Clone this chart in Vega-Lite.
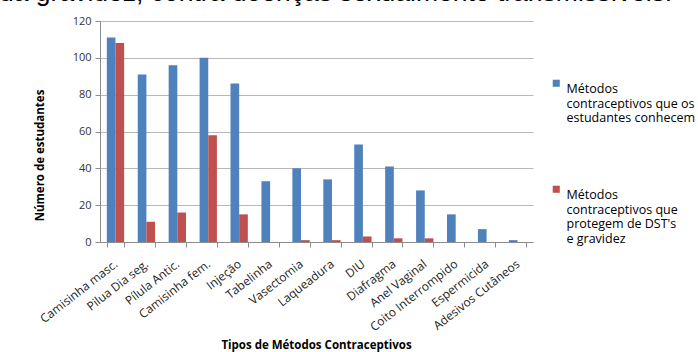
{
  "$schema": "https://vega.github.io/schema/vega-lite/v6.json",
  "autosize": {"type": "none"},
  "width": 433,
  "height": 221,
  "padding": {"left": 100, "top": 21, "right": 165, "bottom": 110},
  "background": "white",
  "title": {
    "text": "da gravidez, contra doenças sexualmente transmissíveis.",
    "font": "Liberation Sans",
    "fontSize": 26.5,
    "fontWeight": 400,
    "color": "#000000",
    "anchor": "start",
    "frame": "group",
    "baseline": "alphabetic",
    "offset": 0,
    "dy": 12,
    "dx": -101
  },
  "config": {
    "font": "Open Sans",
    "view": {"stroke": null}
  },
  "data": {
    "values": [
      {"metodo": "Camisinha masc.", "serie": "Métodos contraceptivos que os estudantes conhecem", "n": 111},
      {"metodo": "Pilua Dia seg.", "serie": "Métodos contraceptivos que os estudantes conhecem", "n": 91},
      {"metodo": "Pílula Antic.", "serie": "Métodos contraceptivos que os estudantes conhecem", "n": 96},
      {"metodo": "Camisinha fem.", "serie": "Métodos contraceptivos que os estudantes conhecem", "n": 100},
      {"metodo": "Injeção", "serie": "Métodos contraceptivos que os estudantes conhecem", "n": 86},
      {"metodo": "Tabelinha", "serie": "Métodos contraceptivos que os estudantes conhecem", "n": 33},
      {"metodo": "Vasectomia", "serie": "Métodos contraceptivos que os estudantes conhecem", "n": 40},
      {"metodo": "Laqueadura", "serie": "Métodos contraceptivos que os estudantes conhecem", "n": 34},
      {"metodo": "DIU", "serie": "Métodos contraceptivos que os estudantes conhecem", "n": 53},
      {"metodo": "Diafragma", "serie": "Métodos contraceptivos que os estudantes conhecem", "n": 41},
      {"metodo": "Anel Vaginal", "serie": "Métodos contraceptivos que os estudantes conhecem", "n": 28},
      {"metodo": "Coito Interrompido", "serie": "Métodos contraceptivos que os estudantes conhecem", "n": 15},
      {"metodo": "Espermicida", "serie": "Métodos contraceptivos que os estudantes conhecem", "n": 7},
      {"metodo": "Adesivos Cutâneos", "serie": "Métodos contraceptivos que os estudantes conhecem", "n": 1},
      {"metodo": "Camisinha masc.", "serie": "Métodos contraceptivos que protegem de DST's e gravidez", "n": 108},
      {"metodo": "Pilua Dia seg.", "serie": "Métodos contraceptivos que protegem de DST's e gravidez", "n": 11},
      {"metodo": "Pílula Antic.", "serie": "Métodos contraceptivos que protegem de DST's e gravidez", "n": 16},
      {"metodo": "Camisinha fem.", "serie": "Métodos contraceptivos que protegem de DST's e gravidez", "n": 58},
      {"metodo": "Injeção", "serie": "Métodos contraceptivos que protegem de DST's e gravidez", "n": 15},
      {"metodo": "Tabelinha", "serie": "Métodos contraceptivos que protegem de DST's e gravidez", "n": 0},
      {"metodo": "Vasectomia", "serie": "Métodos contraceptivos que protegem de DST's e gravidez", "n": 1},
      {"metodo": "Laqueadura", "serie": "Métodos contraceptivos que protegem de DST's e gravidez", "n": 1},
      {"metodo": "DIU", "serie": "Métodos contraceptivos que protegem de DST's e gravidez", "n": 3},
      {"metodo": "Diafragma", "serie": "Métodos contraceptivos que protegem de DST's e gravidez", "n": 2},
      {"metodo": "Anel Vaginal", "serie": "Métodos contraceptivos que protegem de DST's e gravidez", "n": 2},
      {"metodo": "Coito Interrompido", "serie": "Métodos contraceptivos que protegem de DST's e gravidez", "n": 0},
      {"metodo": "Espermicida", "serie": "Métodos contraceptivos que protegem de DST's e gravidez", "n": 0},
      {"metodo": "Adesivos Cutâneos", "serie": "Métodos contraceptivos que protegem de DST's e gravidez", "n": 0}
    ]
  },
  "mark": {"type": "bar"},
  "encoding": {
    "x": {
      "field": "metodo",
      "type": "nominal",
      "sort": null,
      "scale": {"paddingInner": 0.44, "paddingOuter": 0.22},
      "axis": {
        "title": "Tipos  de Métodos Contraceptivos",
        "titleFont": "Open Sans",
        "titleFontSize": 11.5,
        "titleFontWeight": "bold",
        "titleColor": "#000000",
        "titleX": 216,
        "titleY": 103,
        "titleBaseline": "middle",
        "labelAngle": -38,
        "labelAlign": "right",
        "labelBaseline": "middle",
        "labelFontSize": 12,
        "labelColor": "#222222",
        "labelPadding": 15,
        "labelLimit": 200,
        "tickBand": "extent",
        "tickSize": 5,
        "tickColor": "#8c8c8c",
        "domainColor": "#8c8c8c",
        "grid": false
      }
    },
    "xOffset": {
      "field": "serie",
      "type": "nominal",
      "scale": {"paddingInner": 0, "paddingOuter": 0}
    },
    "y": {
      "field": "n",
      "type": "quantitative",
      "scale": {"domain": [0, 120], "nice": false},
      "axis": {
        "title": "Número de estudantes",
        "titleFont": "Open Sans",
        "titleFontSize": 11.5,
        "titleFontWeight": "bold",
        "titleColor": "#000000",
        "titleX": -60,
        "titleY": 134,
        "titleAngle": -90,
        "titleAlign": "center",
        "titleBaseline": "middle",
        "values": [0, 20, 40, 60, 80, 100, 120],
        "labelFontSize": 11,
        "labelColor": "#333333",
        "labelPadding": 4,
        "tickSize": 5,
        "tickColor": "#8c8c8c",
        "domainColor": "#8c8c8c",
        "gridColor": "#b8b8b8",
        "gridWidth": 1
      }
    },
    "color": {
      "field": "serie",
      "type": "nominal",
      "scale": {"range": ["#4F81BD", "#C0504D"]},
      "legend": {
        "title": null,
        "orient": "none",
        "legendX": 450,
        "legendY": 56,
        "direction": "vertical",
        "symbolType": "square",
        "symbolSize": 50,
        "symbolStrokeWidth": 0,
        "labelFontSize": 12.5,
        "labelColor": "#000000",
        "labelLimit": 300,
        "labelBaseline": "top",
        "labelOffset": 4,
        "rowPadding": 58,
        "labelExpr": "indexof(datum.label, 'conhecem') >= 0 ? ['Métodos', 'contraceptivos que os', 'estudantes conhecem'] : ['Métodos', 'contraceptivos que', \"protegem de DST's\", 'e gravidez']"
      }
    }
  }
}
